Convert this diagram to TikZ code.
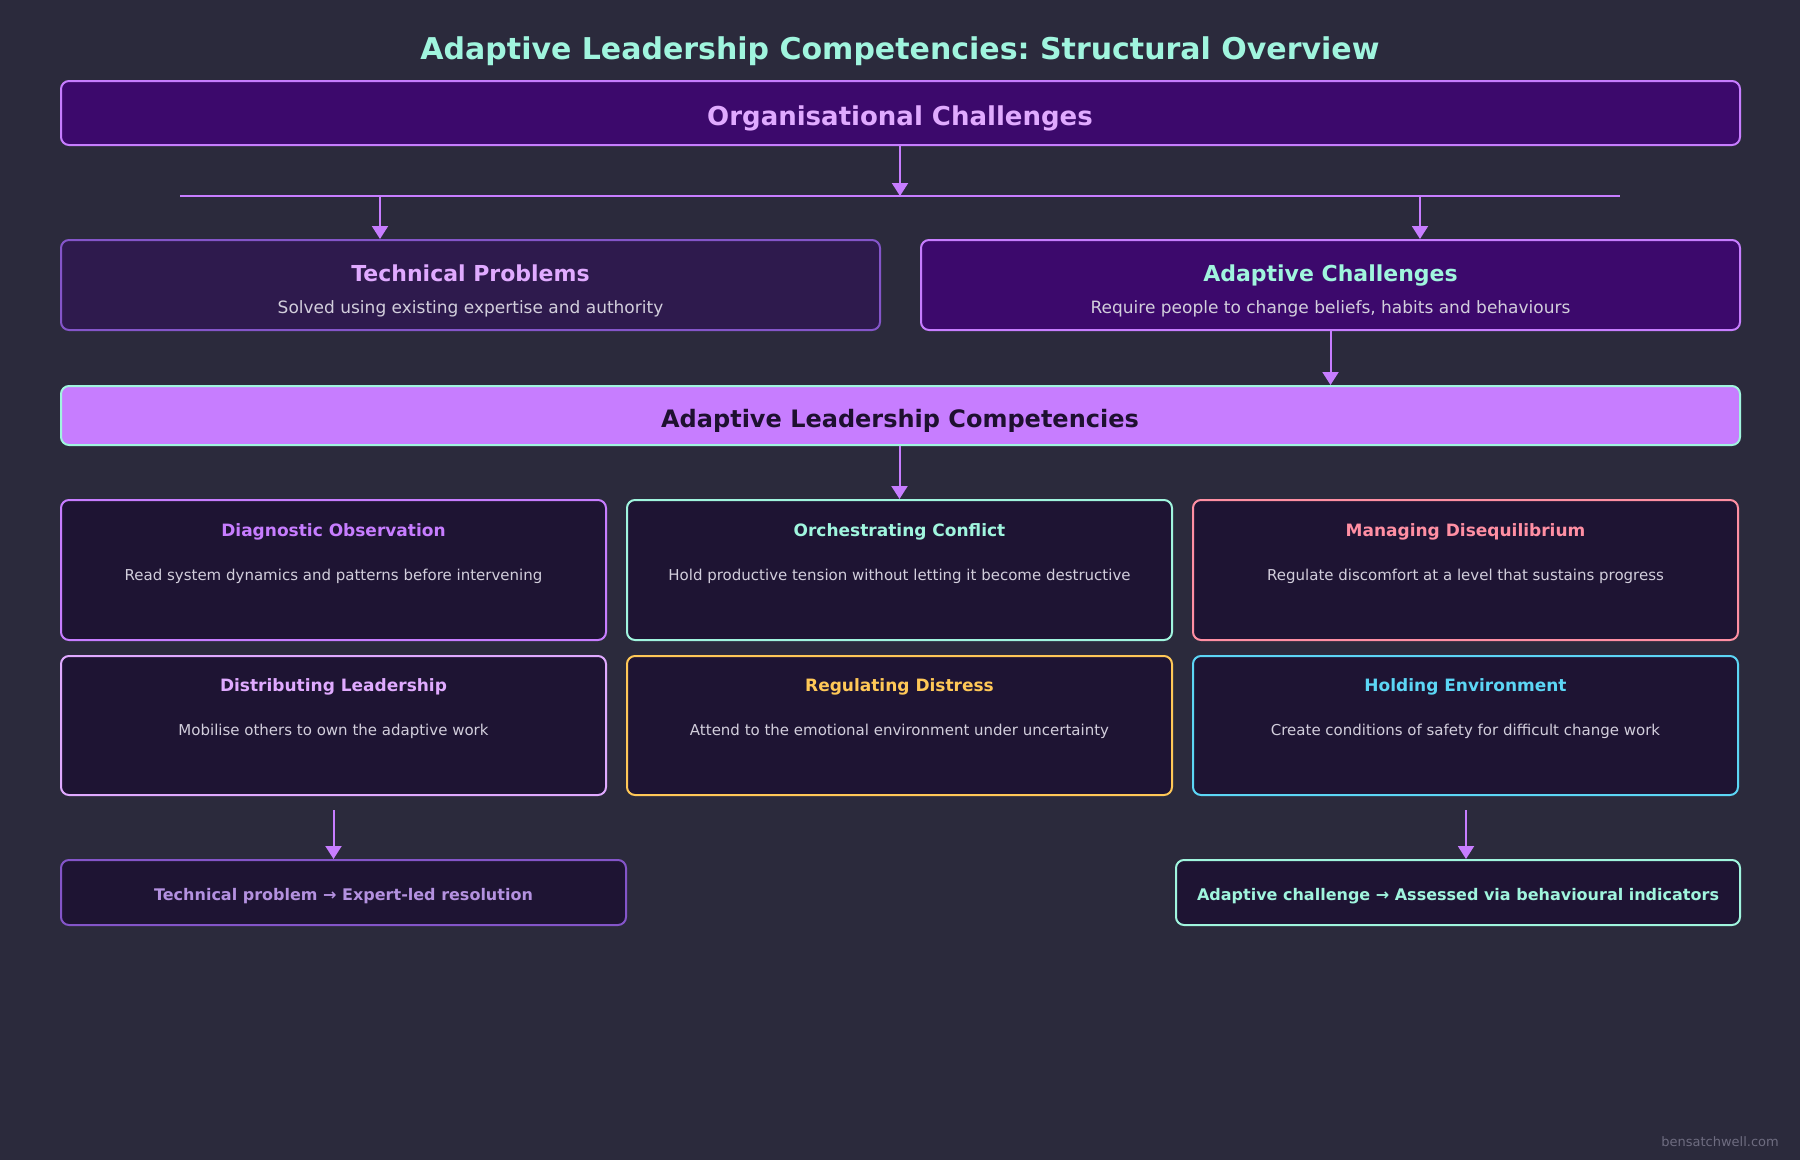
\documentclass[tikz,border=0pt]{standalone}
\usepackage{fontspec}
\setmainfont{DejaVu Sans}
\frenchspacing
\usetikzlibrary{arrows.meta}
\definecolor{bg}{HTML}{2B2A3C}
\definecolor{purp}{HTML}{C77DFF}
\definecolor{lav}{HTML}{E0AAFF}
\definecolor{aqua}{HTML}{A0F5DE}
\definecolor{deepfill}{HTML}{3C096C}
\definecolor{techfill}{HTML}{2E1A4D}
\definecolor{techline}{HTML}{8455C9}
\definecolor{darkfill}{HTML}{1E1433}
\definecolor{darktext}{HTML}{1E1030}
\definecolor{pink}{HTML}{FF8FA3}
\definecolor{gold}{HTML}{FFC857}
\definecolor{sky}{HTML}{5CD6F5}
\definecolor{desc}{HTML}{D2CEDC}
\definecolor{muted}{HTML}{B491E0}
\definecolor{mark}{HTML}{6E6C80}
\tikzset{
  box/.style={draw, line width=2pt, rounded corners=8pt, inner sep=0pt, rectangle},
  arr/.style={draw=purp, line width=2pt, -{Triangle[width=16pt,length=13pt]}},
  ln/.style={draw=purp, line width=2pt},
  txt/.style={anchor=base, inner sep=0pt},
  fT/.style={font=\fontsize{30}{36}\selectfont\bfseries},
  fH/.style={font=\fontsize{26}{31}\selectfont\bfseries},
  fC/.style={font=\fontsize{24}{29}\selectfont\bfseries},
  fM/.style={font=\fontsize{22}{26}\selectfont\bfseries},
  fS/.style={font=\fontsize{17}{20}\selectfont},
  fK/.style={font=\fontsize{17}{20}\selectfont\bfseries},
  fD/.style={font=\fontsize{15}{18}\selectfont},
  fB/.style={font=\fontsize{16}{19}\selectfont\bfseries},
  fW/.style={font=\fontsize{13}{16}\selectfont},
}
\begin{document}
\begin{tikzpicture}[x=1pt,y=-1pt]
\fill[bg] (0,0) rectangle (1800,1160);
\useasboundingbox (0,0) rectangle (1800,1160);

% title
\node[txt, fT, text=aqua] (title) at (900,59) {Adaptive Leadership Competencies: Structural Overview};

% organisational challenges
\node[box, draw=purp, fill=deepfill, minimum width=1679pt, minimum height=64pt] (org) at (900.5,113) {};
\node[txt, fH, text=lav] (orgt) at (900,125) {Organisational Challenges};

% split line
\coordinate (hub) at (900,196);
\coordinate (hl) at (180,196);
\coordinate (hr) at (1620,196);
\coordinate (bl) at (380,196);
\coordinate (br) at (1420,196);
\draw[ln] (hl) -- (hr);
\draw[arr] (org.south -| hub) -- (hub);

% technical / adaptive
\node[box, draw=techline, fill=techfill, minimum width=819pt, minimum height=90pt] (tech) at (470.5,285) {};
\node[txt, fM, text=lav] (techt) at (470.5,281) {Technical Problems};
\node[txt, fS, text=desc] (techs) at (470.5,313) {Solved using existing expertise and authority};

\node[box, draw=purp, fill=deepfill, minimum width=819pt, minimum height=90pt] (adapt) at (1330.5,285) {};
\node[txt, fM, text=aqua] (adaptt) at (1330.5,281) {Adaptive Challenges};
\node[txt, fS, text=desc] (adapts) at (1330.5,313) {Require people to change beliefs, habits and behaviours};

\draw[arr] (bl) -- (bl |- tech.north);
\draw[arr] (br) -- (br |- adapt.north);

% competencies
\node[box, draw=aqua, fill=purp, minimum width=1679pt, minimum height=59pt] (comp) at (900.5,415.5) {};
\node[txt, fC, text=darktext] (compt) at (900,427) {Adaptive Leadership Competencies};
\draw[arr] (adapt.south) -- (adapt.south |- comp.north);

% grid of competencies
\node[box, draw=purp, fill=darkfill, minimum width=545pt, minimum height=140pt] (c1) at (333.5,570) {};
\node[box, draw=aqua, fill=darkfill, minimum width=545pt, minimum height=140pt] (c2) at (899.5,570) {};
\node[box, draw=pink, fill=darkfill, minimum width=545pt, minimum height=140pt] (c3) at (1465.5,570) {};
\node[box, draw=lav, fill=darkfill, minimum width=545pt, minimum height=139pt] (c4) at (333.5,725.5) {};
\node[box, draw=gold, fill=darkfill, minimum width=545pt, minimum height=139pt] (c5) at (899.5,725.5) {};
\node[box, draw=sky, fill=darkfill, minimum width=545pt, minimum height=139pt] (c6) at (1465.5,725.5) {};

\draw[arr] (comp.south -| c2.north) -- (c2.north);

\node[txt, fK, text=purp] (c1t) at (333.5,536) {Diagnostic Observation};
\node[txt, fD, text=desc] (c1d) at (333.5,580) {Read system dynamics and patterns before intervening};
\node[txt, fK, text=aqua] (c2t) at (899.5,536) {Orchestrating Conflict};
\node[txt, fD, text=desc] (c2d) at (899.5,580) {Hold productive tension without letting it become destructive};
\node[txt, fK, text=pink] (c3t) at (1465.5,536) {Managing Disequilibrium};
\node[txt, fD, text=desc] (c3d) at (1465.5,580) {Regulate discomfort at a level that sustains progress};
\node[txt, fK, text=lav] (c4t) at (333.5,691.5) {Distributing Leadership};
\node[txt, fD, text=desc] (c4d) at (333.5,735.5) {Mobilise others to own the adaptive work};
\node[txt, fK, text=gold] (c5t) at (899.5,691.5) {Regulating Distress};
\node[txt, fD, text=desc] (c5d) at (899.5,735.5) {Attend to the emotional environment under uncertainty};
\node[txt, fK, text=sky] (c6t) at (1465.5,691.5) {Holding Environment};
\node[txt, fD, text=desc] (c6d) at (1465.5,735.5) {Create conditions of safety for difficult change work};

% resolution boxes
\node[box, draw=techline, fill=darkfill, minimum width=565pt, minimum height=65pt] (res1) at (343.5,892.5) {};
\node[txt, fB, text=muted] (res1t) at (343.5,900) {Technical problem → Expert-led resolution};
\node[box, draw=aqua, fill=darkfill, minimum width=564pt, minimum height=65pt] (res2) at (1458,892.5) {};
\node[txt, fB, text=aqua] (res2t) at (1458,900) {Adaptive challenge → Assessed via behavioural indicators};

\coordinate (s1) at (333.5,810);
\coordinate (s2) at (1466,810);
\draw[arr] (s1) -- (s1 |- res1.north);
\draw[arr] (s2) -- (s2 |- res2.north);

% watermark
\node[anchor=base east, inner sep=0pt, fW, text=mark] (wm) at (1779,1146) {bensatchwell.com};
\end{tikzpicture}
\end{document}
